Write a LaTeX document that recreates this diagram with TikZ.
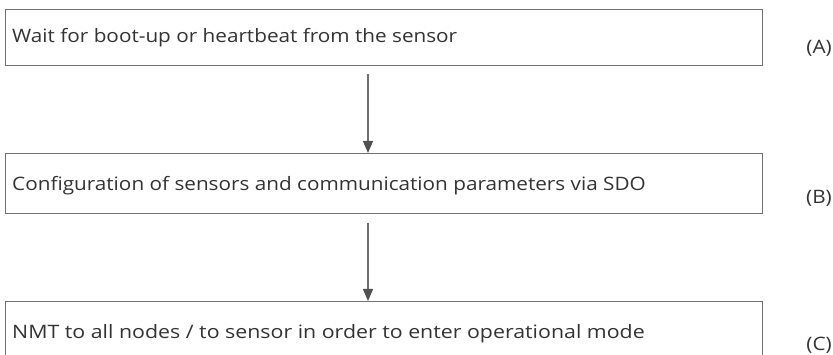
\documentclass[tikz,border=0pt]{standalone}
\usepackage{fontspec}
\setmainfont{Open Sans}[FakeStretch=1.12]
\usetikzlibrary{arrows.meta}
\definecolor{boxline}{HTML}{707070}
\definecolor{txt}{HTML}{333333}
\definecolor{arrowc}{HTML}{6E6E6E}
\definecolor{headc}{HTML}{505050}
\begin{document}
\begin{tikzpicture}[x=1pt,y=1pt,
  stepbox/.style={draw=boxline, line width=1.1pt, minimum width=757pt, anchor=north west, inner sep=0pt},
  steptext/.style={anchor=base west, text=txt, font=\fontsize{18.5}{22}\selectfont, inner sep=0pt},
  tag/.style={anchor=base east, text=txt, font=\fontsize{18.5}{22}\selectfont, inner sep=0pt},
  flow/.style={draw=arrowc, line width=1.2pt, -{Triangle[width=10pt,length=12pt,fill=headc,color=headc]}}]
\useasboundingbox (0,0) rectangle (833,355);
\clip (0,0) rectangle (833,355);
\node[stepbox, minimum height=56pt] (b1) at (5,346) {};
\node[stepbox, minimum height=60pt] (b2) at (5,202) {};
\node[stepbox, minimum height=58pt] (b3) at (5,54) {};
\node[steptext] (t1) at (12,312) {Wait for boot-up or heartbeat from the sensor};
\node[steptext] (t2) at (12,164) {Configuration of sensors and communication parameters via SDO};
\node[steptext, xscale=1.03] (t3) at (12,16) {NMT to all nodes / to sensor in order to enter operational mode};
\node[tag] (la) at (832,301) {(A)};
\node[tag] (lb) at (832,151) {(B)};
\node[tag] (lc) at (832,4) {(C)};
\coordinate (s1) at (368,281);
\coordinate (s2) at (368,132);
\draw[flow] (s1) -- (s1 |- b2.north);
\draw[flow] (s2) -- (s2 |- b3.north);
\end{tikzpicture}
\end{document}
